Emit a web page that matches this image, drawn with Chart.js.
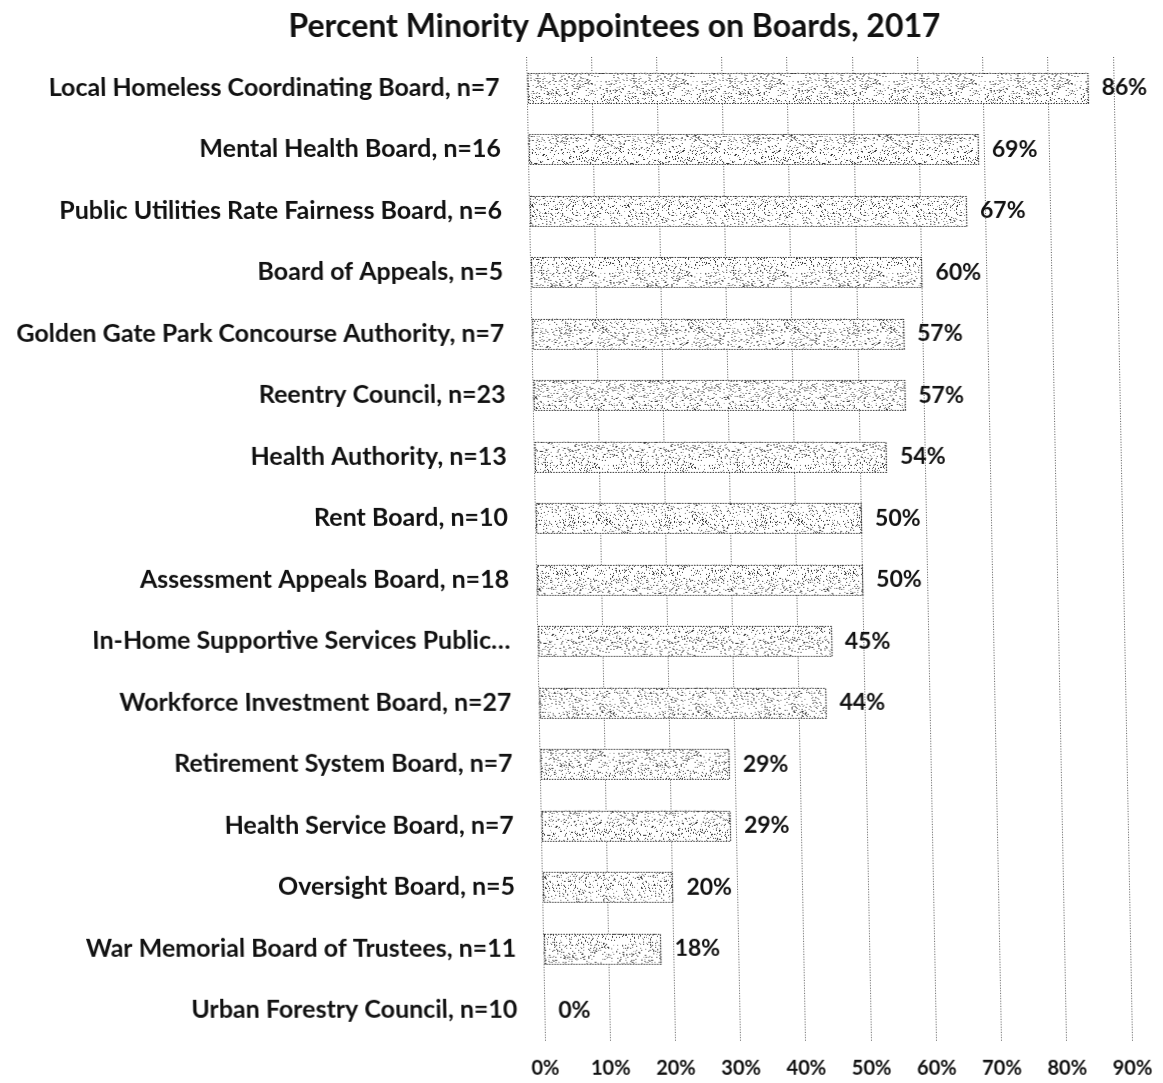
<!DOCTYPE html>
<html>
<head>
<meta charset="utf-8">
<script src="https://cdn.jsdelivr.net/npm/chart.js@4/dist/chart.umd.min.js"></script>
<style>
  html, body { margin: 0; padding: 0; background: #fff; overflow: hidden; }
  #wrap { width: 1163px; height: 1083px; transform: skewX(1.1deg); transform-origin: 0 0; }
  canvas { display: block; }
</style>
</head>
<body>
<div id="wrap"><canvas id="c" width="1163" height="1083"></canvas></div>
<script>
const categories = [
  "Local Homeless Coordinating Board, n=7",
  "Mental Health Board, n=16",
  "Public Utilities Rate Fairness Board, n=6",
  "Board of Appeals, n=5",
  "Golden Gate Park Concourse Authority, n=7",
  "Reentry Council, n=23",
  "Health Authority, n=13",
  "Rent Board, n=10",
  "Assessment Appeals Board, n=18",
  "In-Home Supportive Services Public…",
  "Workforce Investment Board, n=27",
  "Retirement System Board, n=7",
  "Health Service Board, n=7",
  "Oversight Board, n=5",
  "War Memorial Board of Trustees, n=11",
  "Urban Forestry Council, n=10"
];
const percentValues = [86, 69, 67, 60, 57, 57, 54, 50, 50, 45, 44, 29, 29, 20, 18, 0];
const valueLabels = ["86%","69%","67%","60%","57%","57%","54%","50%","50%","45%","44%","29%","29%","20%","18%","0%"];
const titleText = "Percent Minority Appointees on Boards, 2017";

const FONT = "Lato, 'Open Sans', sans-serif";

// decorative speckle texture for bars (fixed seed)
function makePattern() {
  const S = 96;
  const t = document.createElement('canvas');
  t.width = S; t.height = S;
  const g = t.getContext('2d');
  g.fillStyle = '#ffffff';
  g.fillRect(0, 0, S, S);
  let a = 987654321;
  const rnd = () => {
    a |= 0; a = a + 0x6D2B79F5 | 0;
    let t2 = Math.imul(a ^ a >>> 15, 1 | a);
    t2 = t2 + Math.imul(t2 ^ t2 >>> 7, 61 | t2) ^ t2;
    return ((t2 ^ t2 >>> 14) >>> 0) / 4294967296;
  };
  for (let k = 0; k < 1300; k++) {
    const x = Math.floor(rnd() * S), y = Math.floor(rnd() * S);
    const shade = rnd();
    g.fillStyle = shade < 0.5 ? '#333' : (shade < 0.8 ? '#777' : '#aaa');
    g.fillRect(x, y, 1, 1);
  }
  return document.getElementById('c').getContext('2d').createPattern(t, 'repeat');
}

const decorPlugin = {
  id: 'decor',
  afterDatasetsDraw(chart) {
    const ctx = chart.ctx;
    const meta = chart.getDatasetMeta(0);
    ctx.save();
    ctx.strokeStyle = '#333';
    ctx.lineWidth = 1.2;
    ctx.setLineDash([1.5, 1.2]);
    meta.data.forEach((bar, i) => {
      if (percentValues[i] <= 0) return;
      const x0 = Math.round(bar.base) + 0.5, x1 = Math.round(bar.x) + 0.5;
      const y0 = Math.round(bar.y - bar.height / 2) + 0.5, h = Math.round(bar.height);
      ctx.strokeRect(x0, y0, x1 - x0, h);
    });
    ctx.setLineDash([]);
    ctx.font = "bold 23px " + FONT;
    ctx.fillStyle = '#111';
    ctx.textAlign = 'left';
    ctx.textBaseline = 'middle';
    meta.data.forEach((bar, i) => {
      ctx.fillText(valueLabels[i], bar.x + 14, bar.y);
    });
    // title
    ctx.font = "bold 32px " + FONT;
    ctx.textAlign = 'center';
    ctx.fillText(titleText, 614, 27);
    ctx.restore();
  }
};

new Chart(document.getElementById('c'), {
  type: 'bar',
  data: {
    labels: categories,
    datasets: [{
      data: percentValues,
      backgroundColor: makePattern(),
      borderWidth: 0,
      categoryPercentage: 1,
      barPercentage: 0.49
    }]
  },
  options: {
    indexAxis: 'y',
    responsive: false,
    animation: false,
    devicePixelRatio: 1,
    layout: { padding: { left: 0, right: 51, top: 57, bottom: 0 } },
    plugins: {
      legend: { display: false },
      tooltip: { enabled: false },
      title: { display: false }
    },
    scales: {
      x: {
        min: 0, max: 90,
        ticks: {
          stepSize: 10,
          callback: v => v + '%',
          color: '#111',
          font: { family: FONT, size: 20, weight: 'bold' },
          padding: 16
        },
        grid: {
          color: '#555',
          lineWidth: 1,
          drawTicks: false
        },
        border: { display: false, dash: [1, 1.6] },
        afterFit(axis) { axis.height = 42; }
      },
      y: {
        ticks: {
          color: '#111',
          font: { family: FONT, size: 25, weight: 'bold' },
          padding: 19,
          autoSkip: false
        },
        grid: { display: false },
        border: { display: false },
        afterFit(axis) { axis.width = 525; }
      }
    }
  },
  plugins: [decorPlugin]
});
</script>
</body>
</html>
